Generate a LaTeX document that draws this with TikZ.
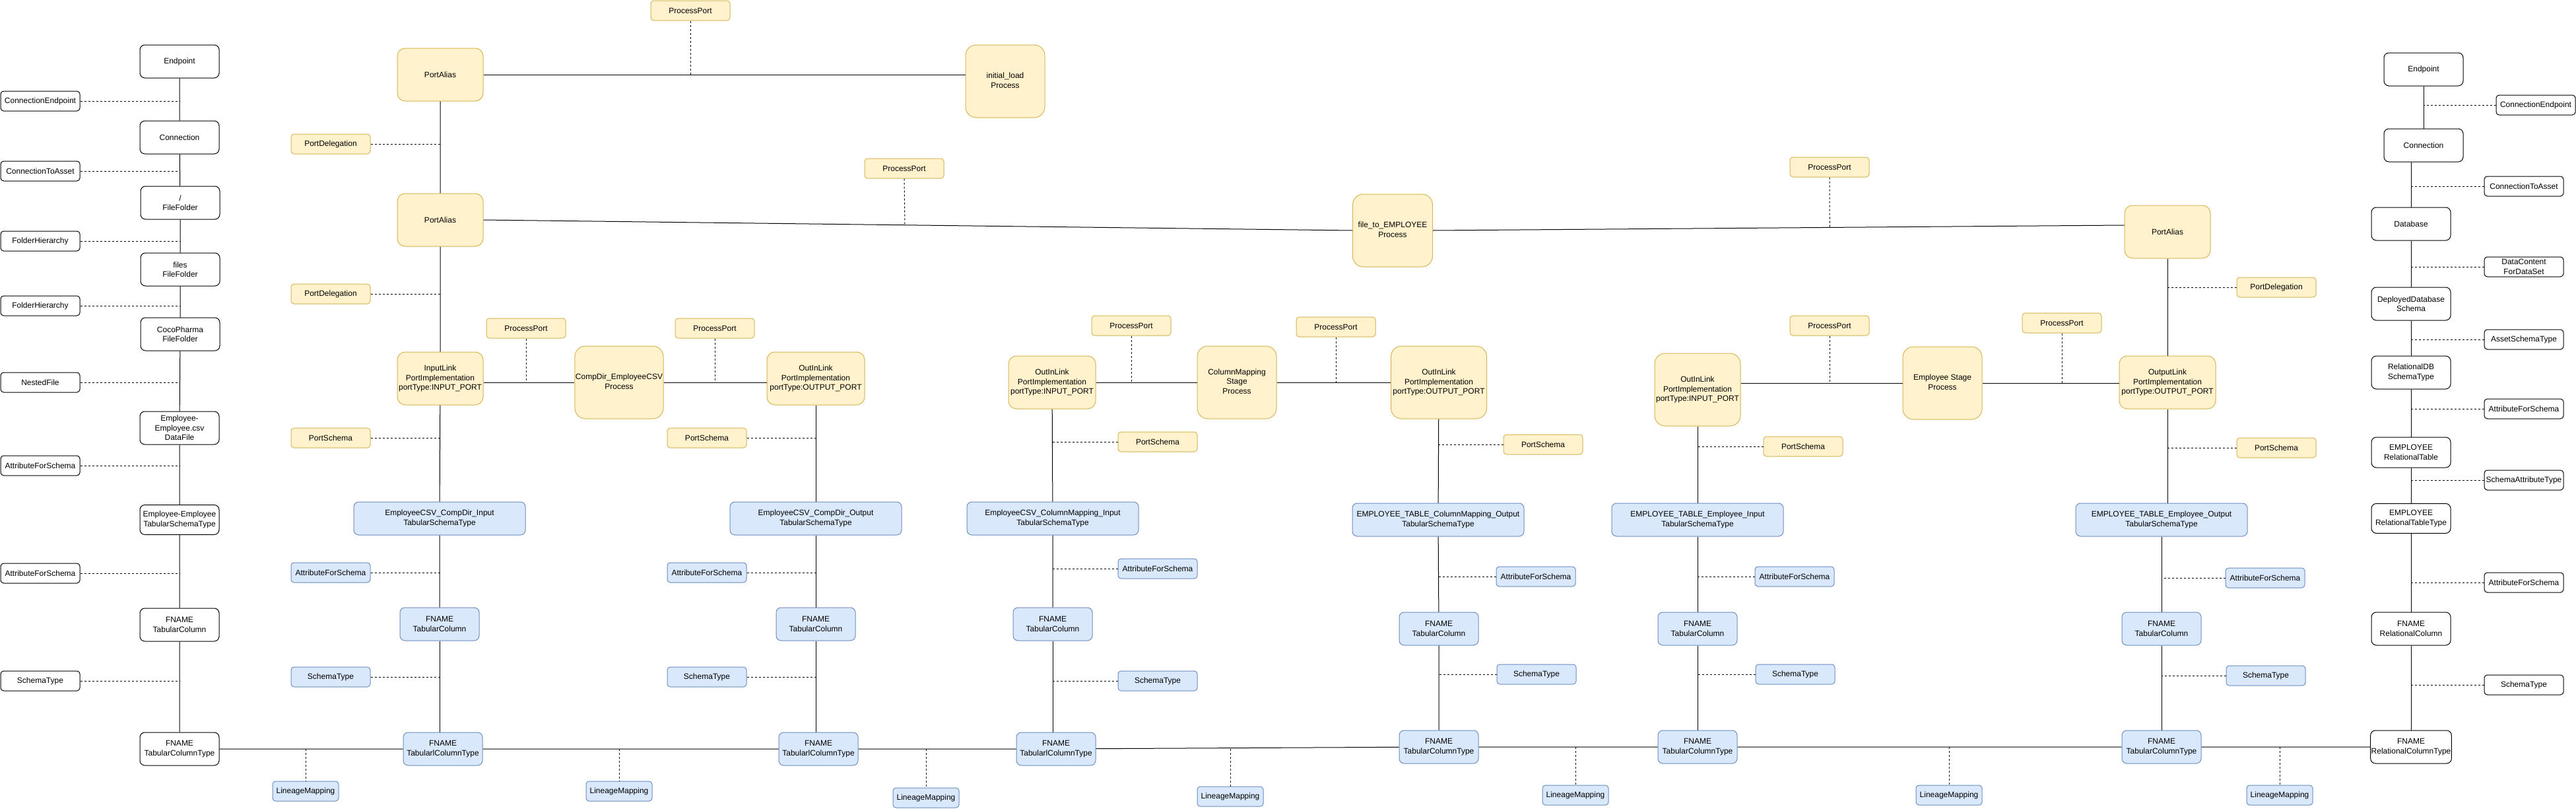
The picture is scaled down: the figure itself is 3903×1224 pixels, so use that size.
\documentclass[tikz,border=0pt]{standalone}
\usepackage{fontspec}
\setmainfont{Liberation Sans}
\definecolor{yfill}{HTML}{FFF2CC}
\definecolor{ystroke}{HTML}{D6B656}
\definecolor{bfill}{HTML}{DAE8FC}
\definecolor{bstroke}{HTML}{6C8EBF}
\newcommand{\upbox}[1]{\raisebox{6pt}{\begin{tabular}{@{}c@{}}#1\end{tabular}}}
\begin{document}
\begin{tikzpicture}[x=1pt,y=-1pt,
  every node/.style={font=\fontsize{12}{14.4}\selectfont, align=center, inner sep=1pt, line width=1pt, text=black},
  wn/.style={draw=black, fill=white},
  yn/.style={draw=ystroke, fill=yfill},
  bn/.style={draw=bstroke, fill=bfill},
  mainbox/.style={rectangle, minimum width=120pt, minimum height=50pt, rounded corners=7.5pt},
  lblbox/.style={rectangle, minimum width=120pt, minimum height=30pt, rounded corners=4.5pt},
  lmbox/.style={rectangle, minimum width=100pt, minimum height=30pt, rounded corners=4.5pt},
  portbox/.style={rectangle, minimum width=130pt, minimum height=80pt, rounded corners=12pt},
  procbox/.style={rectangle, minimum width=120pt, minimum height=110pt, rounded corners=16pt},
  schbox/.style={rectangle, minimum width=260pt, minimum height=50pt, rounded corners=7.5pt},
  conn/.style={draw=black, line width=1pt},
  dsh/.style={draw=black, line width=1pt, dash pattern=on 3pt off 3pt}
]
\useasboundingbox (0,0) rectangle (3903,1224);

% ---------- left column ----------
\node[wn,mainbox] (ep1) at (272,93) {Endpoint};
\node[wn,mainbox] (cn1) at (272,208) {Connection};
\node[wn,mainbox] (ff1) at (273,307) {/\\FileFolder};
\node[wn,mainbox] (ff2) at (273,408) {files\\FileFolder};
\node[wn,mainbox] (ff3) at (273,506) {CocoPharma\\FileFolder};
\node[wn,mainbox] (df) at (272,648) {Employee-\\Employee.csv\\DataFile};
\node[wn,mainbox,minimum height=45pt] (tst0) at (272,787) {Employee-Employee\\TabularSchemaType};
\node[wn,mainbox] (tc0) at (272,946) {FNAME\\TabularColumn};
\node[wn,mainbox] (tct0) at (272,1134) {FNAME\\TabularColumnType};

\node[wn,lblbox] (l1) at (61,153) {ConnectionEndpoint};
\node[wn,lblbox] (l2) at (61,259) {ConnectionToAsset};
\node[wn,lblbox] (l3) at (61,365) {FolderHierarchy};
\node[wn,lblbox] (l4) at (61,463) {FolderHierarchy};
\node[wn,lblbox] (l5) at (61,579) {NestedFile};
\node[wn,lblbox] (l6) at (61,705) {AttributeForSchema};
\node[wn,lblbox] (l7) at (61,868) {AttributeForSchema};
\node[wn,lblbox] (l8) at (61,1031) {SchemaType};

% ---------- column 1 ----------
\node[yn,portbox] (pa1) at (667,113) {PortAlias};
\node[yn,lblbox] (pd1) at (501,218) {PortDelegation};
\node[yn,portbox] (pa2) at (667,333) {PortAlias};
\node[yn,lblbox] (pd2) at (501,445) {PortDelegation};
\node[yn,portbox] (il1) at (667,573) {InputLink\\PortImplementation\\portType:INPUT\_PORT};
\node[yn,lblbox] (ps1) at (501,663) {PortSchema};
\node[bn,schbox] (st1) at (666,785) {EmployeeCSV\_CompDir\_Input\\TabularSchemaType};
\node[bn,lblbox] (af1) at (501,867) {AttributeForSchema};
\node[bn,mainbox] (tc1) at (666,945) {FNAME\\TabularColumn};
\node[bn,lblbox] (sy1) at (501,1025) {SchemaType};
\node[bn,mainbox] (tct1) at (671,1134) {FNAME\\TabularlColumnType};

% ---------- processes ----------
\node[yn,lblbox] (pp0) at (1046,16) {ProcessPort};
\node[yn,procbox] (pr0) at (1523,123) {\upbox{initial\_load\\Process}};
\node[yn,lblbox] (pp1) at (1370,255) {ProcessPort};
\node[yn,procbox,minimum width=121pt] (pr1) at (2110,349) {\upbox{file\_to\_EMPLOYEE\\Process}};
\node[yn,lblbox] (pp2) at (2772,253) {ProcessPort};

\node[yn,lblbox] (pp3) at (797,497) {ProcessPort};
\node[yn,procbox,minimum width=130pt] (pr2) at (938,579) {\upbox{CompDir\_EmployeeCSV\\Process}};
\node[yn,lblbox] (pp4) at (1083,497) {ProcessPort};

% ---------- column 2 ----------
\node[yn,portbox,minimum width=148pt] (ol2) at (1236,573) {OutInLink\\PortImplementation\\portType:OUTPUT\_PORT};
\node[yn,lblbox] (ps2) at (1071,663) {PortSchema};
\node[bn,schbox] (st2) at (1236,785) {EmployeeCSV\_CompDir\_Output\\TabularSchemaType};
\node[bn,lblbox] (af2) at (1071,867) {AttributeForSchema};
\node[bn,mainbox] (tc2) at (1236,945) {FNAME\\TabularColumn};
\node[bn,lblbox] (sy2) at (1071,1025) {SchemaType};
\node[bn,mainbox] (tct2) at (1240,1134) {FNAME\\TabularlColumnType};

% ---------- column 3 ----------
\node[yn,portbox,minimum width=132pt] (ol3) at (1594,579) {OutInLink\\PortImplementation\\portType:INPUT\_PORT};
\node[yn,lblbox] (pp5) at (1714,493) {ProcessPort};
\node[yn,procbox] (pr3) at (1874,579) {\upbox{ColumnMapping\\Stage\\Process}};
\node[yn,lblbox] (pp6) at (2024,495) {ProcessPort};
\node[yn,lblbox] (ps3) at (1754,669) {PortSchema};
\node[bn,schbox] (st3) at (1595,785) {EmployeeCSV\_ColumnMapping\_Input\\TabularSchemaType};
\node[bn,lblbox] (af3) at (1754,861) {AttributeForSchema};
\node[bn,mainbox] (tc3) at (1595,945) {FNAME\\TabularColumn};
\node[bn,lblbox] (sy3) at (1754,1031) {SchemaType};
\node[bn,mainbox] (tct3) at (1600,1134) {FNAME\\TabularlColumnType};

% ---------- column 4 ----------
\node[yn,portbox,minimum width=145pt,minimum height=110pt,rounded corners=16pt] (ol4) at (2180,579) {OutInLink\\PortImplementation\\portType:OUTPUT\_PORT};
\node[yn,lblbox] (ps4) at (2338,673) {PortSchema};
\node[bn,schbox] (st4) at (2179,787) {EMPLOYEE\_TABLE\_ColumnMapping\_Output\\TabularSchemaType};
\node[bn,lblbox] (af4) at (2327,873) {AttributeForSchema};
\node[bn,mainbox] (tc4) at (2180,952) {FNAME\\TabularColumn};
\node[bn,lblbox] (sy4) at (2328,1021) {SchemaType};
\node[bn,mainbox] (tct4) at (2180,1131) {FNAME\\TabularColumnType};

% ---------- column 5 ----------
\node[yn,portbox,minimum height=110pt,rounded corners=16pt] (ol5) at (2572,590) {OutInLink\\PortImplementation\\portType:INPUT\_PORT};
\node[yn,lblbox] (pp7) at (2772,493) {ProcessPort};
\node[yn,procbox] (pr4) at (2943,580) {\upbox{Employee Stage\\Process}};
\node[yn,lblbox] (pp8) at (3124,489) {ProcessPort};
\node[yn,lblbox] (ps5) at (2732,676) {PortSchema};
\node[bn,schbox] (st5) at (2572,787) {EMPLOYEE\_TABLE\_Employee\_Input\\TabularSchemaType};
\node[bn,lblbox] (af5) at (2719,873) {AttributeForSchema};
\node[bn,mainbox] (tc5) at (2572,952) {FNAME\\TabularColumn};
\node[bn,lblbox] (sy5) at (2720,1021) {SchemaType};
\node[bn,mainbox] (tct5) at (2572,1131) {FNAME\\TabularColumnType};

% ---------- column 6 ----------
\node[yn,portbox] (pa3) at (3284,351) {PortAlias};
\node[yn,lblbox] (pd3) at (3449,435) {PortDelegation};
\node[yn,portbox,minimum width=146pt] (ol6) at (3284,579) {OutputLink\\PortImplementation\\portType:OUTPUT\_PORT};
\node[yn,lblbox] (ps6) at (3449,678) {PortSchema};
\node[bn,schbox] (st6) at (3275,787) {EMPLOYEE\_TABLE\_Employee\_Output\\TabularSchemaType};
\node[bn,lblbox] (af6) at (3432,875) {AttributeForSchema};
\node[bn,mainbox] (tc6) at (3275,952) {FNAME\\TabularColumn};
\node[bn,lblbox] (sy6) at (3433,1023) {SchemaType};
\node[bn,mainbox] (tct6) at (3275,1131) {FNAME\\TabularColumnType};

% ---------- right column ----------
\node[wn,mainbox] (ep2) at (3672,105) {Endpoint};
\node[wn,lblbox] (ce2) at (3842,159) {ConnectionEndpoint};
\node[wn,mainbox] (cn2) at (3672,220) {Connection};
\node[wn,lblbox] (ca2) at (3824,282) {ConnectionToAsset};
\node[wn,mainbox] (db) at (3653,339) {Database};
\node[wn,lblbox] (dc) at (3824,404) {DataContent\\ForDataSet};
\node[wn,mainbox] (dds) at (3653,460) {DeployedDatabase\\Schema};
\node[wn,lblbox] (ast) at (3824,514) {AssetSchemaType};
\node[wn,mainbox] (rdb) at (3653,564) {RelationalDB\\SchemaType};
\node[wn,lblbox] (af7) at (3824,619) {AttributeForSchema};
\node[wn,mainbox,minimum height=46pt] (rt) at (3653,685) {EMPLOYEE\\RelationalTable};
\node[wn,lblbox] (sat) at (3824,727) {SchemaAttributeType};
\node[wn,mainbox,minimum height=45pt] (rtt) at (3653,785) {EMPLOYEE\\RelationalTableType};
\node[wn,lblbox] (af8) at (3824,882) {AttributeForSchema};
\node[wn,mainbox] (rc) at (3653,952) {FNAME\\RelationalColumn};
\node[wn,lblbox] (sy7) at (3824,1037) {SchemaType};
\node[wn,mainbox] (rct) at (3653,1131) {FNAME\\RelationalColumnType};

% ---------- lineage mappings ----------
\node[bn,lmbox] (lm1) at (463,1198) {LineageMapping};
\node[bn,lmbox] (lm2) at (938,1198) {LineageMapping};
\node[bn,lmbox] (lm3) at (1403,1208) {LineageMapping};
\node[bn,lmbox] (lm4) at (1864,1206) {LineageMapping};
\node[bn,lmbox] (lm5) at (2387,1204) {LineageMapping};
\node[bn,lmbox] (lm6) at (2953,1204) {LineageMapping};
\node[bn,lmbox] (lm7) at (3454,1204) {LineageMapping};

% ================= solid connectors =================
\draw[conn] (ep1) -- (cn1) -- (ff1) -- (ff2) -- (ff3) -- (df) -- (tst0) -- (tc0) -- (tct0);
\draw[conn] (pa1.east) -- (pa1.east -| pr0.west);
\draw[conn] (pa1) -- (pa2) -- (il1) -- (st1) -- (tc1);
\draw[conn] (tc1.south) -- (tc1.south |- tct1.north);
\draw[conn] (pa2.east) -- coordinate[pos=0.485] (m1) (pr1.west);
\draw[conn] (pr1.east) -- coordinate[pos=0.574] (m2) ([yshift=10pt]pa3.west);
\draw[conn] (pr2.west -| il1.east) -- (pr2.west);
\draw[conn] (pr2.east) -- (pr2.east -| ol2.west);
\draw[conn] (ol2) -- (st2) -- (tc2);
\draw[conn] (tc2.south) -- (tc2.south |- tct2.north);
\draw[conn] (ol3.east) -- (pr3.west);
\draw[conn] (pr3.east) -- (ol4.west);
\draw[conn] (ol3) -- (st3) -- (tc3);
\draw[conn] (tc3.south) -- (tc3.south |- tct3.north);
\draw[conn] (ol4) -- (st4) -- (tc4) -- (tct4);
\draw[conn] (pr4.west -| ol5.east) -- (pr4.west);
\draw[conn] (pr4.east) -- (pr4.east -| ol6.west);
\draw[conn] (ol5) -- (st5) -- (tc5) -- (tct5);
\draw[conn] (pa3) -- (ol6);
\draw[conn] (ol6.south) -- (ol6.south |- st6.north);
\draw[conn] (st6) -- (tc6) -- (tct6);
\draw[conn] (tct0) -- (tct1) -- (tct2) -- (tct3) -- (tct4) -- (tct5) -- (tct6) -- (rct);
\draw[conn] (ep2) -- (cn2);
\draw[conn] (cn2.south -| db) -- (db);
\draw[conn] (db) -- (dds) -- (rdb) -- (rt) -- (rtt) -- (rc) -- (rct);

% ================= dashed connectors =================
\foreach \n in {l1,l2,l3,l4,l5,l6,l7,l8} \draw[dsh] (\n.east) -- (\n.east -| ep1);
\foreach \n in {pd1,pd2,ps1,af1,sy1} \draw[dsh] (\n.east) -- (\n.east -| pa1);
\foreach \n in {ps2,af2,sy2} \draw[dsh] (\n.east) -- (\n.east -| ol2);
\foreach \n in {ps3,af3,sy3} \draw[dsh] (\n.west) -- (\n.west -| ol3);
\foreach \n in {ps4,af4,sy4} \draw[dsh] (\n.west) -- (\n.west -| ol4);
\foreach \n in {ps5,af5,sy5} \draw[dsh] (\n.west) -- (\n.west -| ol5);
\foreach \n in {pd3,ps6} \draw[dsh] (\n.west) -- (\n.west -| pa3);
\foreach \n in {af6,sy6} \draw[dsh] (\n.west) -- (\n.west -| st6);
\draw[dsh] (ce2.west) -- (ce2.west -| ep2);
\foreach \n in {ca2,dc,ast,af7,sat,af8,sy7} \draw[dsh] (\n.west) -- (\n.west -| db);

\draw[dsh] (pp0.south) -- (pp0.south |- pa1.east);
\draw[dsh] (pp1.south) -- (m1);
\draw[dsh] (pp2.south) -- (m2);
\draw[dsh] (pp3.south) -- (pp3.south |- pr2.west);
\draw[dsh] (pp4.south) -- (pp4.south |- pr2.east);
\draw[dsh] (pp5.south) -- (pp5.south |- pr3.west);
\draw[dsh] (pp6.south) -- (pp6.south |- pr3.east);
\draw[dsh] (pp7.south) -- (pp7.south |- pr4.west);
\draw[dsh] (pp8.south) -- (pp8.south |- pr4.east);

\draw[dsh] (lm1.north |- tct0.east) -- (lm1.north);
\draw[dsh] (lm2.north |- tct1.east) -- (lm2.north);
\draw[dsh] (lm3.north |- tct2.east) -- (lm3.north);
\draw[dsh] (lm4.north |- tct3.east) -- (lm4.north);
\draw[dsh] (lm5.north |- tct4.east) -- (lm5.north);
\draw[dsh] (lm6.north |- tct5.east) -- (lm6.north);
\draw[dsh] (lm7.north |- tct6.east) -- (lm7.north);
\end{tikzpicture}
\end{document}
